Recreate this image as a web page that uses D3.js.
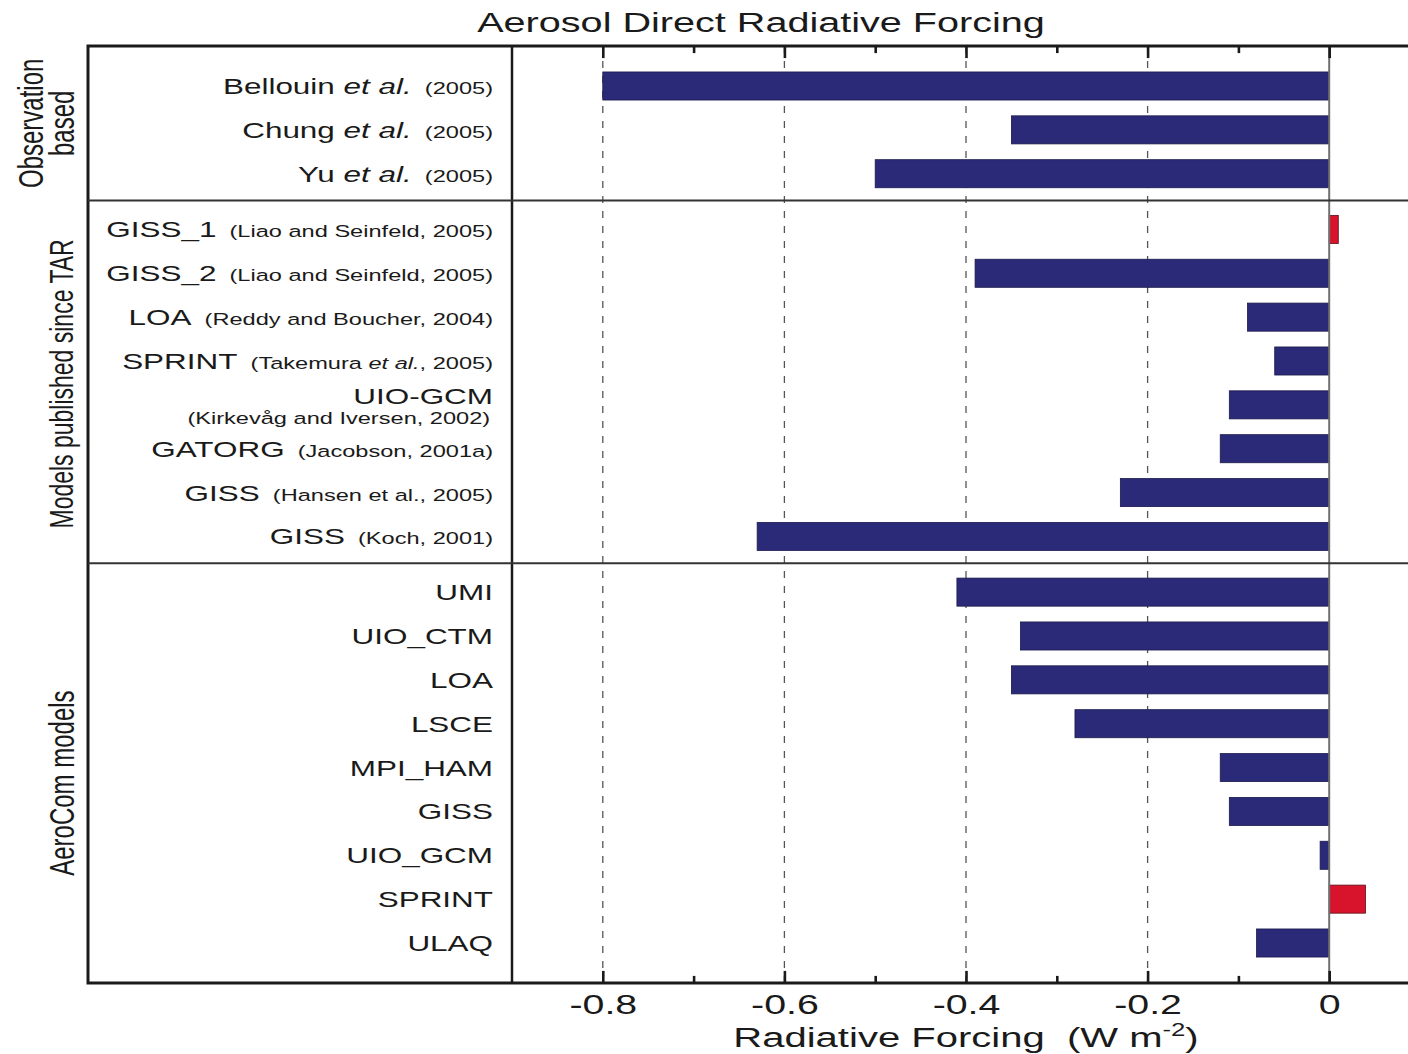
<!DOCTYPE html>
<html>
<head>
<meta charset="utf-8">
<script src="https://cdn.jsdelivr.net/npm/d3@7"></script>
<style>
  body { margin: 0; background: #fff; }
  svg { display: block; }
  text { font-family: "Liberation Sans", Arial, Helvetica, sans-serif; fill: #1a1a1a; white-space: pre; }
</style>
</head>
<body>
<svg id="chart" width="1408" height="1054"></svg>
<script>
// ---- data ------------------------------------------------------------
// Model / study names (text between *...* is set in italics)
const models = [
  "Bellouin *et al.*", "Chung *et al.*", "Yu *et al.*",
  "GISS_1", "GISS_2", "LOA", "SPRINT", "UIO-GCM", "GATORG", "GISS", "GISS",
  "UMI", "UIO_CTM", "LOA", "LSCE", "MPI_HAM", "GISS", "UIO_GCM", "SPRINT", "ULAQ"
];
// Literature reference printed after each name (smaller type)
const citations = [
  "(2005)", "(2005)", "(2005)",
  "(Liao and Seinfeld, 2005)", "(Liao and Seinfeld, 2005)", "(Reddy and Boucher, 2004)",
  "(Takemura *et al.*, 2005)", "(Kirkevåg and Iversen, 2002)", "(Jacobson, 2001a)",
  "(Hansen et al., 2005)", "(Koch, 2001)",
  "", "", "", "", "", "", "", "", ""
];
// Aerosol direct radiative forcing, W m-2
const forcing = [
  -0.80, -0.35, -0.50,
   0.01, -0.39, -0.09, -0.06, -0.11, -0.12, -0.23, -0.63,
  -0.41, -0.34, -0.35, -0.28, -0.12, -0.11, -0.01, 0.04, -0.08
];
// Group each row belongs to
const groupOf = [0,0,0, 1,1,1,1,1,1,1,1, 2,2,2,2,2,2,2,2,2];
const groupNames = [["Observation", "based"], ["Models published since TAR"], ["AeroCom models"]];
const majorTicks = [-0.8, -0.6, -0.4, -0.2, 0];
const minorTicks = [-0.7, -0.5, -0.3, -0.1];
const titleText = "Aerosol Direct Radiative Forcing";

// ---- layout ----------------------------------------------------------
const svg = d3.select("#chart");
const S = 1.43;            // horizontal type stretch
const groupGap = 0.27;     // extra space between groups (in rows)
const edgePad = 0.91;      // space above first / below last row (in rows)
const slot = i => i + groupOf[i] * groupGap;
const n = forcing.length;

const x = d3.scaleLinear().domain([-0.9, 0.1]).range([512, 1420]);
const y = d3.scaleLinear().domain([0, slot(n - 1)]).range([86, 943]);
const step = y(1) - y(0);
const barH = step * 0.64;
const frameLeft = 88, frameRight = 1408;
const yTop = y(-edgePad), yBottom = y(slot(n - 1) + edgePad);

// group boundaries
const dividers = [];
for (let i = 1; i < n; i++) {
  if (groupOf[i] !== groupOf[i - 1]) dividers.push(y((slot(i) + slot(i - 1)) / 2) - 1);
}
const groupEdges = [yTop, ...dividers, yBottom];

// ---- grid lines ------------------------------------------------------
svg.append("g").selectAll("line").data(majorTicks.filter(d => d !== 0)).join("line")
  .attr("x1", d => x(d)).attr("x2", d => x(d))
  .attr("y1", yTop).attr("y2", yBottom)
  .attr("stroke", "#555").attr("stroke-width", 1.3)
  .attr("stroke-dasharray", "7,8");

// ---- bars ------------------------------------------------------------
svg.append("g").selectAll("rect").data(forcing).join("rect")
  .attr("x", d => x(Math.min(0, d)))
  .attr("width", d => Math.abs(x(d) - x(0)))
  .attr("y", (d, i) => y(slot(i)) - barH / 2)
  .attr("height", barH)
  .attr("fill", d => d > 0 ? "#d7142c" : "#2b2a78")
  .attr("stroke", d => d > 0 ? "#5a1018" : "#1b1a4a")
  .attr("stroke-width", 0.8);

// zero line
svg.append("line")
  .attr("x1", x(0)).attr("x2", x(0)).attr("y1", yTop).attr("y2", yBottom)
  .attr("stroke", "#707070").attr("stroke-width", 2);

// ---- frame -----------------------------------------------------------
const frame = svg.append("g").attr("stroke", "#1a1a1a").attr("fill", "none");
frame.append("path")
  .attr("d", `M${frameRight},${yTop}H${frameLeft}V${yBottom}H${frameRight}`)
  .attr("stroke-width", 3);
frame.append("line")
  .attr("x1", x.range()[0]).attr("x2", x.range()[0]).attr("y1", yTop).attr("y2", yBottom)
  .attr("stroke-width", 2.5);
frame.selectAll(".div").data(dividers).join("line").attr("class", "div")
  .attr("x1", frameLeft).attr("x2", frameRight)
  .attr("y1", d => d).attr("y2", d => d)
  .attr("stroke", "#333").attr("stroke-width", 2);

// ---- axes ------------------------------------------------------------
function ticks(axisFn, yPos, values, size, withLabels) {
  const g = svg.append("g").attr("transform", `translate(0,${yPos})`)
    .call(axisFn(x).tickValues(values).tickSize(-size).tickPadding(12)
      .tickFormat(withLabels ? (d => d === 0 ? "0" : d3.format(".1f")(d).replace("−", "-")) : ""));
  g.select(".domain").remove();
  g.selectAll(".tick line").attr("stroke", "#1a1a1a").attr("stroke-width", 2.6);
  g.selectAll(".tick text")
    .attr("font-size", 27.5).attr("fill", "#1a1a1a")
    .attr("font-family", "Liberation Sans, Arial, sans-serif")
    .attr("transform", `scale(${S},1)`);
  return g;
}
ticks(d3.axisTop, yTop, majorTicks, 12, false);
ticks(d3.axisTop, yTop, minorTicks, 7, false);
ticks(d3.axisBottom, yBottom, majorTicks, 12, true);
ticks(d3.axisBottom, yBottom, minorTicks, 7, false);

// axis title
const xt = svg.append("g")
  .attr("transform", `translate(${(x.range()[0] + x.range()[1]) / 2},1047) scale(${S},1)`)
  .append("text").attr("text-anchor", "middle").attr("font-size", 28);
xt.append("tspan").text("Radiative Forcing  (W m");
xt.append("tspan").attr("font-size", 18).attr("dy", -11).text("-2");
xt.append("tspan").attr("dy", 11).text(")");

// chart title
svg.append("g").attr("transform", `translate(761,32) scale(${S},1)`)
  .append("text").attr("text-anchor", "middle").attr("font-size", 27.7).text(titleText);

// ---- row labels ------------------------------------------------------
const mainSize = 22, citeSize = 16.5, labelRight = 493;
function addRuns(textSel, str, size) {
  str.split("*").forEach((part, k) => {
    if (!part) return;
    textSel.append("tspan").attr("font-size", size)
      .attr("font-style", k % 2 ? "italic" : "normal").text(part);
  });
}
models.forEach((name, i) => {
  const cy = y(slot(i));
  const g = svg.append("g").attr("transform", `translate(${labelRight},${cy}) scale(${S},1)`);
  const t = g.append("text").attr("text-anchor", "end").attr("y", 8);
  addRuns(t, name, mainSize);
  if (citations[i]) {
    t.append("tspan").attr("font-size", citeSize).text("  ");
    addRuns(t, citations[i], citeSize);
    // wrap the reference onto its own line when it does not fit
    if (t.node().getComputedTextLength() * S > 400) {
      t.selectAll("tspan").remove();
      t.attr("y", -1);
      addRuns(t, name, mainSize);
      const t2 = g.append("text").attr("text-anchor", "end").attr("y", 19).attr("x", -2);
      addRuns(t2, citations[i], citeSize);
    }
  }
});

// ---- group labels (rotated) ------------------------------------------
const groupBaselines = [[43, 74], [73], [74]];
const groupShift = [0, 2, 10];
groupNames.forEach((lines, gi) => {
  const cy = (groupEdges[gi] + groupEdges[gi + 1]) / 2 + groupShift[gi];
  lines.forEach((line, li) => {
    svg.append("g")
      .attr("transform", `translate(${groupBaselines[gi][li]},${cy}) scale(${S},1) rotate(-90)`)
      .append("text").attr("text-anchor", "middle").attr("font-size", gi === 1 ? 23 : 24).text(line);
  });
});
</script>
</body>
</html>
